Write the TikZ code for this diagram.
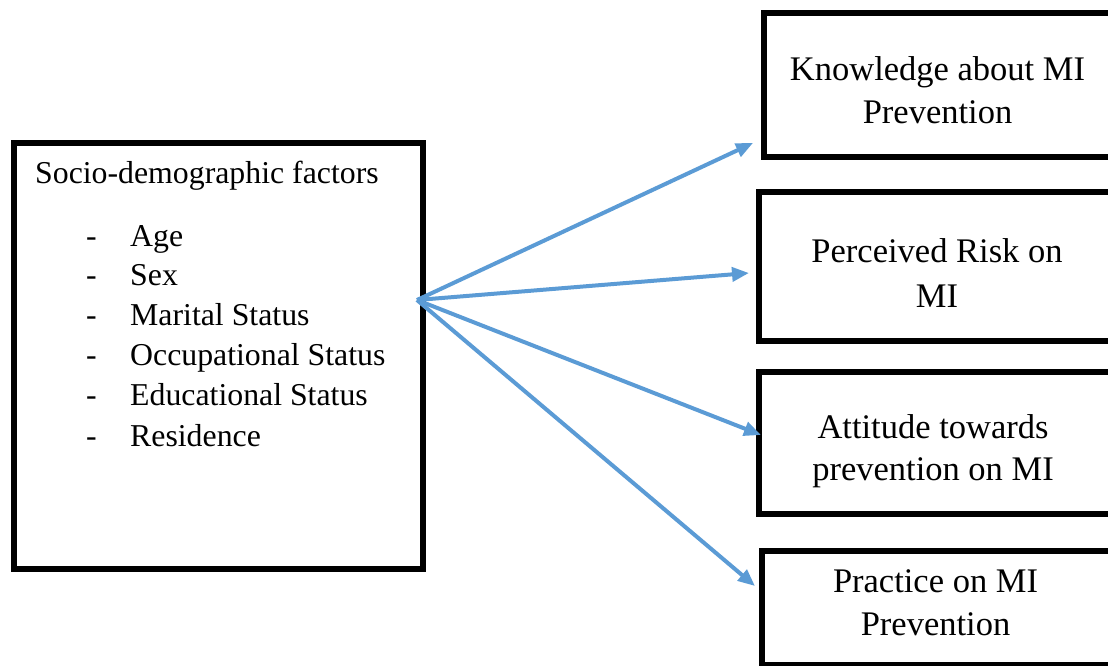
\documentclass[tikz,border=0pt]{standalone}
\usepackage{fontspec}
\setmainfont{Liberation Serif}
\usetikzlibrary{arrows.meta}
\definecolor{arrowblue}{RGB}{91,155,213}
\begin{document}
\begin{tikzpicture}[x=1pt,y=-1pt,
  boxline/.style={draw=black,line width=6pt,inner sep=0pt,anchor=north west},
  txt/.style={font=\fontsize{34.5}{41}\selectfont,inner sep=0pt,anchor=base},
  ltxt/.style={font=\fontsize{31.8}{38}\selectfont,inner sep=0pt,anchor=base west},
  conn/.style={draw=arrowblue,line width=4pt,-{Triangle[length=17pt,width=14pt]}}]
\useasboundingbox (0,0) rectangle (1108,665);
\clip (0,0) rectangle (1108,665);
% left box
\node[boxline,minimum width=409pt,minimum height=426pt] (L) at (11,140) {};
\node[ltxt] (lt) at (35,183) {Socio-demographic factors};
\foreach \y/\t [count=\i] in {246/Age,285/Sex,325/Marital Status,365/Occupational Status,405/Educational Status,446/Residence}{
  \node[ltxt] (d\i) at (86,\y) {-};
  \node[ltxt] (i\i) at (130,\y) {\t};
}
% right boxes
\node[boxline,minimum width=353pt,minimum height=144.5pt] (b1) at (761,9.5) {};
\node[boxline,minimum width=362.5pt,minimum height=148.5pt] (b2) at (755.5,189) {};
\node[boxline,minimum width=353pt,minimum height=142pt] (b3) at (755.5,368.5) {};
\node[boxline,minimum width=353.5pt,minimum height=114.5pt] (b4) at (758.5,547.5) {};
\node[txt] (t1a) at (937.5,80) {Knowledge about MI};
\node[txt] (t1b) at (937.5,123) {Prevention};
\node[txt] (t2a) at (937,262) {Perceived Risk on};
\node[txt] (t2b) at (937,307) {MI};
\node[txt] (t3a) at (933,438) {Attitude towards};
\node[txt] (t3b) at (933,480) {prevention on MI};
\node[txt] (t4a) at (935.5,592) {Practice on MI};
\node[txt] (t4b) at (935.5,635) {Prevention};
% connectors
\coordinate (s) at (417,300);
\coordinate (e1) at (753,143);
\coordinate (e2) at (749,273);
\coordinate (e3) at (761,435);
\coordinate (e4) at (755,586);
\draw[conn] (s) -- (e1);
\draw[conn] (s) -- (e2);
\draw[conn] (s) -- (e3);
\draw[conn] (s) -- (e4);
\end{tikzpicture}
\end{document}
